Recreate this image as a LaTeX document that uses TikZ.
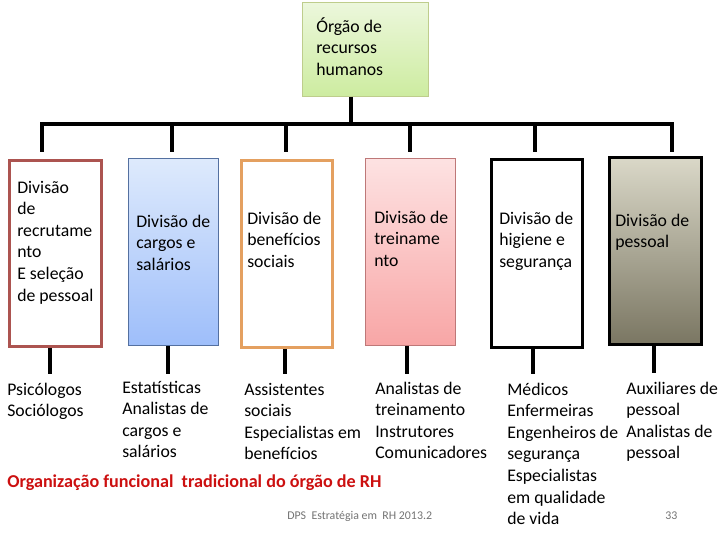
\documentclass[tikz,border=0pt]{standalone}
\usepackage{fontspec}
\setmainfont{Carlito}
\definecolor{gtop}{RGB}{236,247,220}
\definecolor{gbot}{RGB}{205,236,160}
\definecolor{gline}{RGB}{190,205,140}
\definecolor{redb}{RGB}{172,84,80}
\definecolor{bltop}{RGB}{222,234,252}
\definecolor{blbot}{RGB}{158,190,250}
\definecolor{blline}{RGB}{84,112,160}
\definecolor{orb}{RGB}{228,160,96}
\definecolor{pktop}{RGB}{253,226,226}
\definecolor{pkbot}{RGB}{248,166,166}
\definecolor{pkline}{RGB}{190,120,120}
\definecolor{grtop}{RGB}{218,216,200}
\definecolor{grbot}{RGB}{122,118,98}
\definecolor{titred}{RGB}{204,16,16}
\begin{document}
\begin{tikzpicture}[x=0.75pt,y=-0.75pt,
  conn/.style={line width=3pt,black},
  lbl/.style={anchor=base west,inner sep=0pt,align=left,font=\fontsize{13.3pt}{16.2pt}\selectfont},
  boxA/.style={draw,anchor=north west,inner sep=0pt}]
\useasboundingbox (0,0) rectangle (720,540);
% top box
\node[boxA,draw=gline,top color=gtop,bottom color=gbot,minimum width=126*0.75pt,minimum height=94*0.75pt] (top) at (302,2) {};
\node[lbl] (toptxt) at (316,32+2*21.6) {Órgão de\\recursos\\humanos};
% division boxes
\node[boxA,draw=redb,line width=2.2pt,fill=white,minimum width=92*0.75pt,minimum height=186*0.75pt] (b1) at (8,159) {};
\node[boxA,draw=blline,line width=0.6pt,top color=bltop,bottom color=blbot,minimum width=90*0.75pt,minimum height=187*0.75pt] (b2) at (128,158) {};
\node[boxA,draw=orb,line width=2.2pt,fill=white,minimum width=91*0.75pt,minimum height=187*0.75pt] (b3) at (240,159) {};
\node[boxA,draw=pkline,line width=0.6pt,top color=pktop,bottom color=pkbot,minimum width=90*0.75pt,minimum height=187*0.75pt] (b4) at (365,158) {};
\node[boxA,draw=black,line width=2.2pt,fill=white,minimum width=91*0.75pt,minimum height=188*0.75pt] (b5) at (490,158) {};
\node[boxA,draw=black,line width=2.2pt,top color=grtop,bottom color=grbot,minimum width=92*0.75pt,minimum height=187*0.75pt] (b6) at (608,156) {};
% box texts
\node[lbl] (d1) at (17,193+5*21.6) {Divisão\\de\\recrutame\\nto\\E seleção\\de pessoal};
\node[lbl] (d2) at (136,227+2*21.6) {Divisão de\\cargos e\\salários};
\node[lbl] (d3) at (247,224+2*21.6) {Divisão de\\benefícios\\sociais};
\node[lbl] (d4) at (374,223+2*21.6) {Divisão de\\treiname\\nto};
\node[lbl] (d5) at (499,224+2*21.6) {Divisão de\\higiene e\\segurança};
\node[lbl] (d6) at (615,226+21.6) {Divisão de\\pessoal};
% lower texts
\node[lbl] (t1) at (7,395+21.6) {Psicólogos\\Sociólogos};
\node[lbl] (t2) at (122,393+3*21.6) {Estatísticas\\Analistas de\\cargos e\\salários};
\node[lbl] (t3) at (244,395+3*21.6) {Assistentes\\sociais\\Especialistas em\\benefícios};
\node[lbl] (t4) at (375,394+3*21.6) {Analistas de\\treinamento\\Instrutores\\Comunicadores};
\node[lbl] (t5) at (507,395+6*21.6) {Médicos\\Enfermeiras\\Engenheiros de\\segurança\\Especialistas\\em qualidade\\de vida};
\node[lbl] (t6) at (626,394+3*21.6) {Auxiliares de\\pessoal\\Analistas de\\pessoal};
% title & footer
\node[anchor=base west,inner sep=0pt,text=titred,font=\fontsize{13.6pt}{16pt}\selectfont\bfseries] (title) at (7,487) {Organização funcional\ \ tradicional do órgão de RH};
\node[anchor=base west,inner sep=0pt,text=black!55,font=\fontsize{8.9pt}{11pt}\selectfont] (foot) at (287,519) {DPS\ \ Estratégia em\ \ RH 2013.2};
\node[anchor=base west,inner sep=0pt,text=black!55,font=\fontsize{8.9pt}{11pt}\selectfont] (pg) at (665,519) {33};
% connectors
\coordinate (j0) at (351,124);
\coordinate (k1) at (42,124);
\coordinate (k2) at (172,124);
\coordinate (k3) at (286,124);
\coordinate (k4) at (410,124);
\coordinate (k5) at (535,124);
\coordinate (k6) at (672,124);
\draw[conn] (top.south -| j0) -- (j0);
\draw[conn,line cap=rect] (k1) -- (k6);
\foreach \i in {1,...,6}{
  \draw[conn] (k\i) -- ++(0,28);
}
\coordinate (s1) at (50,374);
\coordinate (s2) at (168,374);
\coordinate (s3) at (285,374);
\coordinate (s4) at (407,374);
\coordinate (s5) at (533,374);
\coordinate (s6) at (654,373);
\foreach \i in {1,...,6}{
  \draw[conn] (b\i.south -| s\i) -- (s\i);
}
\end{tikzpicture}
\end{document}
